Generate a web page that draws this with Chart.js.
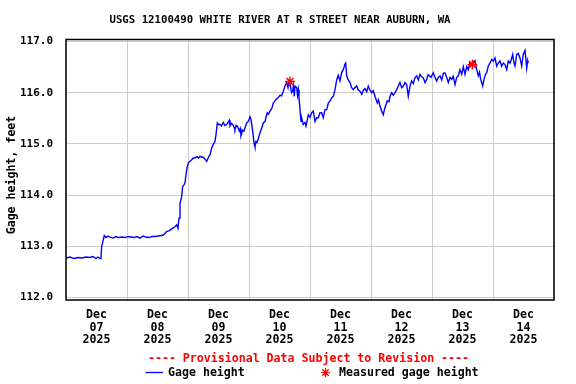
<!DOCTYPE html>
<html>
<head>
<meta charset="utf-8">
<title>USGS 12100490 WHITE RIVER AT R STREET NEAR AUBURN, WA</title>
<script src="https://cdn.jsdelivr.net/npm/chart.js@4.4.0/dist/chart.umd.min.js"></script>
<style>
	body { margin: 0; background: #fff; }
	canvas { display: block; }
</style>
</head>
<body>
<canvas id="graficoGage" width="576" height="384"></canvas>
<script>
// hours since Dec 07 2025 00:00
var hours = [
	0, 1.57, 3.15, 4.72, 6.30, 7.87, 9.44, 10.62, 11.80, 12.59, 13.38, 13.77, 14.05, 14.56, 15.07,
	15.74, 16.52, 17.31, 18.49, 19.67, 20.85, 22.03, 23.21, 24.39, 25.57, 26.75, 27.93, 29.11, 30.30,
	31.48, 32.66, 33.84, 35.02, 36.20, 37.38, 38.28, 38.95, 39.62, 40.52, 41.31, 42.21, 42.89, 43.55,
	44.07, 44.46, 44.85, 45.44, 45.92, 46.43, 46.82, 47.49, 48.12, 48.79, 49.46, 49.97, 50.75, 51.54,
	52.13, 52.72, 53.39, 54.02, 54.69, 55.36, 55.87, 56.66, 57.32, 57.95, 58.62, 59.02, 59.53, 60.00,
	60.59, 61.18, 61.89, 62.56, 63.23, 63.74, 64.25, 64.52, 65.11, 65.59, 66.10, 66.49, 66.89, 67.40,
	67.79, 68.18, 68.54, 68.85, 69.52, 70.03, 70.43, 71.09, 71.72, 72.39, 72.79, 73.46, 73.97, 74.36,
	74.75, 75.15, 75.66, 76.33, 77.00, 77.62, 78.29, 78.69, 79.20, 79.67, 80.26, 80.93, 81.56, 82.23,
	82.90, 83.41, 84.20, 84.79, 85.49, 86.16, 86.83, 87.34, 87.74, 88.13, 88.72, 89.19, 89.43, 89.82,
	90.10, 90.77, 91.08, 91.40, 91.67, 92.07, 92.46, 92.73, 93.36, 94.03, 94.43, 94.82, 95.33, 96.00,
	96.67, 97.30, 97.97, 98.64, 99.26, 99.93, 100.60, 101.23, 101.90, 102.57, 103.20, 103.87, 104.54,
	105.16, 105.84, 106.50, 107.13, 107.80, 108.47, 109.10, 109.77, 110.04, 110.43, 111.06, 111.74,
	112.40, 113.03, 113.70, 114.37, 115.00, 115.67, 116.34, 116.97, 117.64, 118.31, 118.94, 119.61,
	120.28, 120.90, 121.57, 122.48, 122.95, 123.54, 124.21, 124.84, 125.19, 125.51, 126.41, 127.08,
	127.48, 128.15, 128.77, 129.44, 130.11, 130.74, 131.41, 132.08, 132.70, 133.38, 134.05, 134.67,
	135.34, 136.01, 136.64, 137.31, 137.98, 138.61, 139.28, 139.95, 140.57, 141.25, 141.92, 142.43,
	142.94, 143.61, 144.51, 145.18, 145.85, 146.48, 147.15, 147.82, 148.44, 149.11, 149.78, 150.41,
	151.08, 151.75, 152.38, 153.05, 153.72, 154.34, 155.01, 155.68, 156.31, 156.98, 157.65, 158.28,
	158.95, 159.62, 160.25, 160.92, 161.59, 162.22, 162.69, 163.16, 163.95, 164.46, 164.97, 165.52,
	166.15, 166.82, 167.49, 168.11, 168.79, 169.45, 170.08, 170.75, 171.42, 172.05, 172.72, 173.39,
	174.02, 174.69, 175.20, 175.75, 176.18, 176.66, 177.33, 177.95, 178.62, 179.29, 179.92, 180.59,
	181.26, 181.65, 181.88
];

// gage height, feet
var gageHeight = [
	112.77, 112.79, 112.76, 112.78, 112.77, 112.79, 112.78, 112.80, 112.76, 112.79, 112.76, 112.80, 113.00, 113.10, 113.21,
	113.17, 113.20, 113.18, 113.16, 113.19, 113.17, 113.18, 113.17, 113.19, 113.18, 113.17, 113.19, 113.16, 113.20,
	113.18, 113.17, 113.19, 113.19, 113.20, 113.21, 113.22, 113.25, 113.29, 113.30, 113.33, 113.36, 113.38, 113.42,
	113.35, 113.55, 113.84, 113.95, 114.17, 114.20, 114.24, 114.50, 114.63, 114.66, 114.69, 114.72, 114.73, 114.75,
	114.72, 114.76, 114.74, 114.74, 114.70, 114.66, 114.72, 114.79, 114.92, 114.99, 115.05, 115.18, 115.41, 115.38,
	115.38, 115.35, 115.42, 115.36, 115.38, 115.42, 115.46, 115.35, 115.40, 115.38, 115.33, 115.28, 115.36, 115.35,
	115.30, 115.25, 115.30, 115.16, 115.27, 115.25, 115.31, 115.41, 115.44, 115.53, 115.48, 115.25, 115.02, 114.94,
	115.05, 115.03, 115.10, 115.22, 115.31, 115.41, 115.44, 115.52, 115.61, 115.58, 115.64, 115.69, 115.80, 115.84,
	115.88, 115.90, 115.95, 115.94, 116.03, 116.13, 116.20, 116.10, 116.23, 116.18, 116.00, 116.03, 116.13, 115.93,
	116.13, 116.10, 115.95, 116.06, 115.90, 115.67, 115.44, 115.50, 115.38, 115.42, 115.35, 115.44, 115.57, 115.52,
	115.61, 115.64, 115.44, 115.51, 115.51, 115.61, 115.61, 115.51, 115.67, 115.67, 115.80, 115.84, 115.90,
	115.93, 116.06, 116.25, 116.34, 116.23, 116.40, 116.45, 116.56, 116.58, 116.33, 116.25, 116.20,
	116.10, 116.06, 116.10, 116.13, 116.05, 116.03, 115.97, 116.05, 116.08, 116.02, 116.13, 116.05,
	116.00, 116.04, 115.93, 115.80, 115.86, 115.74, 115.64, 115.57, 115.65, 115.71, 115.84, 115.82,
	115.93, 116.00, 115.95, 116.00, 116.06, 116.13, 116.20, 116.10, 116.13, 116.20, 116.16, 115.93,
	116.13, 116.23, 116.18, 116.29, 116.33, 116.25, 116.36, 116.31, 116.29, 116.20, 116.26, 116.35,
	116.33, 116.30, 116.39, 116.30, 116.23, 116.30, 116.33, 116.25, 116.38, 116.39, 116.30, 116.20,
	116.30, 116.26, 116.32, 116.16, 116.30, 116.33, 116.45, 116.36, 116.51, 116.36, 116.51, 116.45,
	116.60, 116.55, 116.60, 116.63, 116.45, 116.33, 116.40, 116.26, 116.13, 116.26, 116.35, 116.39,
	116.52, 116.58, 116.65, 116.62, 116.68, 116.52, 116.58, 116.62, 116.52, 116.58, 116.55, 116.45,
	116.62, 116.58, 116.65, 116.75, 116.60, 116.52, 116.75, 116.77, 116.68, 116.52, 116.75, 116.83,
	116.48, 116.63, 116.58
];

var measuredHours = [88.1, 159.9];
var measuredHeight = [116.22, 116.55];

var dayTicks = [12, 36, 60, 84, 108, 132, 156, 180];
var dayLabels = [
	['Dec', '07', '2025'], ['Dec', '08', '2025'], ['Dec', '09', '2025'], ['Dec', '10', '2025'],
	['Dec', '11', '2025'], ['Dec', '12', '2025'], ['Dec', '13', '2025'], ['Dec', '14', '2025']
];
var yTicks = [112, 113, 114, 115, 116, 117];

var titulo = 'USGS 12100490 WHITE RIVER AT R STREET NEAR AUBURN, WA';
var yTitulo = 'Gage height, feet';
var aviso = '---- Provisional Data Subject to Revision ----';
var legendaLinha = 'Gage height';
var legendaMedida = 'Measured gage height';

var fonte = '"DejaVu Sans Mono", "Liberation Mono", monospace';

function desenhaAsterisco(ctx, x, y, r) {
	ctx.beginPath();
	ctx.moveTo(x - r, y); ctx.lineTo(x + r, y);
	ctx.moveTo(x, y - r); ctx.lineTo(x, y + r);
	var d = r * 0.72;
	ctx.moveTo(x - d, y - d); ctx.lineTo(x + d, y + d);
	ctx.moveTo(x - d, y + d); ctx.lineTo(x + d, y - d);
	ctx.stroke();
}

var textosPlugin = {
	id: 'textos',
	afterDraw: function(chart) {
		var ctx = chart.ctx;
		var area = chart.chartArea;
		ctx.save();

		// box around plot
		ctx.strokeStyle = '#000';
		ctx.lineWidth = 1.5;
		ctx.strokeRect(area.left, area.top, area.right - area.left, area.bottom - area.top);

		ctx.fillStyle = '#000';
		ctx.textBaseline = 'middle';
		ctx.textAlign = 'center';
		ctx.font = 'bold 10.7px ' + fonte;
		ctx.fillText(titulo, 280, 20);

		ctx.save();
		ctx.translate(12, 175);
		ctx.rotate(-Math.PI / 2);
		ctx.font = 'bold 11.6px ' + fonte;
		ctx.fillText(yTitulo, 0, 0);
		ctx.restore();

		ctx.font = 'bold 11.6px ' + fonte;
		ctx.fillStyle = '#ff0000';
		ctx.fillText(aviso, 308.5, 359);

		ctx.textAlign = 'left';
		ctx.strokeStyle = '#0000ff';
		ctx.lineWidth = 1.3;
		ctx.beginPath();
		ctx.moveTo(145.5, 372.5);
		ctx.lineTo(163, 372.5);
		ctx.stroke();
		ctx.fillStyle = '#000';
		ctx.fillText(legendaLinha, 168, 373);

		ctx.strokeStyle = '#ff0000';
		ctx.lineWidth = 1.2;
		desenhaAsterisco(ctx, 325.5, 372.5, 4.5);
		ctx.fillStyle = '#000';
		ctx.fillText(legendaMedida, 339, 373);

		ctx.restore();
	}
};

var ctx = document.getElementById('graficoGage').getContext('2d');

var grafico = new Chart(ctx, {
	type: 'line',
	data: {
		datasets: [{
			label: legendaMedida,
			type: 'scatter',
			data: measuredHours.map(function(h, i) { return { x: h, y: measuredHeight[i] }; }),
			pointStyle: 'star',
			pointRadius: 5,
			borderColor: '#ff0000',
			backgroundColor: '#ff0000',
			borderWidth: 1.4,
			showLine: false
		}, {
			label: legendaLinha,
			data: hours.map(function(h, i) { return { x: h, y: gageHeight[i] }; }),
			borderColor: '#0000ff',
			borderWidth: 1.4,
			pointRadius: 0,
			tension: 0,
			fill: false
		}]
	},
	options: {
		responsive: false,
		animation: false,
		events: [],
		layout: { padding: { top: 39.5, right: 22, left: 0, bottom: 0 } },
		plugins: {
			legend: { display: false },
			title: { display: false },
			tooltip: { enabled: false }
		},
		scales: {
			x: {
				type: 'linear',
				min: 0,
				max: 192,
				afterBuildTicks: function(axis) {
					axis.ticks = dayTicks.map(function(v) { return { value: v }; });
				},
				afterFit: function(axis) { axis.height = 84; },
				grid: { color: '#cccccc', lineWidth: 1, offset: true, drawTicks: false },
				border: { display: false },
				ticks: {
					autoSkip: false,
					maxRotation: 0,
					padding: 8,
					color: '#000',
					font: { family: fonte, size: 11.6, weight: 'bold', lineHeight: 1.12 },
					callback: function(value, index) { return dayLabels[index]; }
				}
			},
			y: {
				min: 111.95,
				max: 117.04,
				afterBuildTicks: function(axis) {
					axis.ticks = yTicks.map(function(v) { return { value: v }; });
				},
				afterFit: function(axis) { axis.width = 66; },
				grid: { color: '#cccccc', lineWidth: 1, drawTicks: false },
				border: { display: false },
				ticks: {
					padding: 13,
					color: '#000',
					font: { family: fonte, size: 11, weight: 'bold' },
					callback: function(value) { return value.toFixed(1); }
				}
			}
		}
	},
	plugins: [textosPlugin]
});
</script>
</body>
</html>
